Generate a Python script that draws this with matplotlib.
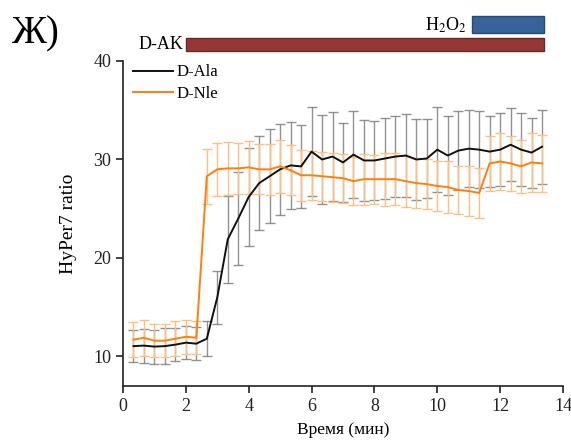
import numpy as np
import matplotlib
matplotlib.use("Agg")
import matplotlib.pyplot as plt
from matplotlib.patches import Rectangle

plt.rcParams['font.family'] = ['Liberation Serif', 'DejaVu Serif']
plt.rcParams['mathtext.fontset'] = 'stix'

time_min = [k / 3 for k in range(1, 41)]

d_ala = [11.05, 11.1, 11.0, 11.05, 11.2, 11.4, 11.3, 11.8, 16.0, 21.9,
         24.0, 26.2, 27.6, 28.3, 29.0, 29.4, 29.3, 30.8, 30.0, 30.3,
         29.7, 30.5, 29.9, 29.9, 30.1, 30.3, 30.4, 30.0, 30.1, 31.0,
         30.4, 30.9, 31.1, 31.0, 30.8, 31.0, 31.5, 31.0, 30.7, 31.3]
d_ala_err = [1.65, 1.73, 1.73, 1.8, 1.7, 1.7, 1.67, 1.8, 2.7, 4.4,
             4.7, 5.0, 4.8, 4.8, 4.6, 4.4, 4.2, 4.5, 4.5, 4.5,
             4.0, 4.4, 4.1, 4.0, 4.1, 4.1, 4.2, 4.1, 4.0, 4.3,
             4.0, 4.0, 3.9, 3.9, 3.6, 3.7, 3.7, 3.7, 3.55, 3.75]

d_nle = [11.7, 11.9, 11.6, 11.6, 11.8, 12.0, 11.9, 28.3, 29.0, 29.1,
         29.1, 29.2, 29.0, 29.0, 29.3, 28.9, 28.4, 28.4, 28.3, 28.2,
         28.1, 27.8, 28.0, 28.0, 28.0, 28.0, 27.8, 27.6, 27.5, 27.3,
         27.2, 26.9, 26.8, 26.6, 29.6, 29.8, 29.6, 29.3, 29.7, 29.6]
d_nle_err = [1.77, 1.85, 1.7, 1.67, 1.77, 1.73, 1.7, 2.8, 2.7, 2.7,
             2.6, 2.67, 2.55, 2.6, 2.7, 2.55, 2.6, 2.5, 2.5, 2.47,
             2.47, 2.47, 2.6, 2.5, 2.7, 2.65, 2.6, 2.5, 2.5, 2.5,
             2.6, 2.4, 2.5, 2.5, 2.8, 2.9, 2.8, 2.7, 3.0, 2.9]

series_labels = ["D-Ala", "D-Nle"]
x_ticks = [0, 2, 4, 6, 8, 10, 12, 14]
y_ticks = [10, 20, 30, 40]
treat_dak = (2.0, 13.4)
treat_h2o2 = (11.1, 13.4)

W, H = 571, 446
fig = plt.figure(figsize=(W / 100, H / 100), dpi=100)
left, right, bottom, top = 123 / W, 563 / W, 1 - 386 / H, 1 - 61 / H
ax = fig.add_axes([left, bottom, right - left, top - bottom])

ax.errorbar(time_min, d_ala, yerr=d_ala_err, fmt='none', ecolor='#7f7f7f',
            elinewidth=1.0, capsize=3.5, capthick=1.0, alpha=0.85, zorder=2)
ax.errorbar(time_min, d_nle, yerr=d_nle_err, fmt='none', ecolor='#ffbf80',
            elinewidth=1.0, capsize=3.5, capthick=1.0, zorder=3)
ax.plot(time_min, d_ala, color='#111111', lw=1.4, label=series_labels[0], zorder=4)
ax.plot(time_min, d_nle, color='#ff7f0e', lw=1.4, label=series_labels[1], zorder=5)

ax.set_xlim(0, 14)
ax.set_ylim(7, 40)
ax.set_xticks(x_ticks)
ax.set_yticks(y_ticks)
ax.spines['top'].set_visible(False)
ax.spines['right'].set_visible(False)
ax.spines['left'].set_bounds(7, 40)
for s in ('left', 'bottom'):
    ax.spines[s].set_linewidth(1.2)
    ax.spines[s].set_color('#222222')
ax.tick_params(direction='out', length=5, width=1.2, labelsize=13, colors='#222222')
ax.set_xlabel("Время (мин)", fontsize=12.5, labelpad=5)
ax.set_ylabel("HyPer7 ratio", fontsize=14, labelpad=12)

leg = ax.legend(loc='upper left', bbox_to_anchor=(0.0, 1.02), frameon=False,
                fontsize=12, handlelength=2.4, handletextpad=0.2,
                labelspacing=0.35, borderaxespad=0.2)

# treatment bars above the plot
axt = fig.add_axes([left, 0.86, right - left, 0.14])
axt.set_xlim(0, 14)
axt.set_ylim(0.86, 1.0)
axt.axis('off')
y_dak = (1 - 51 / H, 1 - 38 / H)
y_h = (1 - 33 / H, 1 - 16 / H)
axt.add_patch(Rectangle((treat_dak[0], y_dak[0]), treat_dak[1] - treat_dak[0],
                        y_dak[1] - y_dak[0], facecolor='#953735', edgecolor='#6e2624', lw=1))
axt.add_patch(Rectangle((treat_h2o2[0], y_h[0]), treat_h2o2[1] - treat_h2o2[0],
                        y_h[1] - y_h[0], facecolor='#38629a', edgecolor='#254a7a', lw=1))
axt.text(treat_dak[0] - 0.08, sum(y_dak) / 2, "D-AK", ha='right', va='center', fontsize=13)
axt.text(treat_h2o2[0] - 0.15, sum(y_h) / 2 - 0.002, r"H$_2$O$_2$", ha='right', va='center', fontsize=13)

fig.text(12 / W, 1 - 34 / H, "Ж)", fontsize=28, ha='left', va='center')

fig.savefig("out.png", dpi=100)
